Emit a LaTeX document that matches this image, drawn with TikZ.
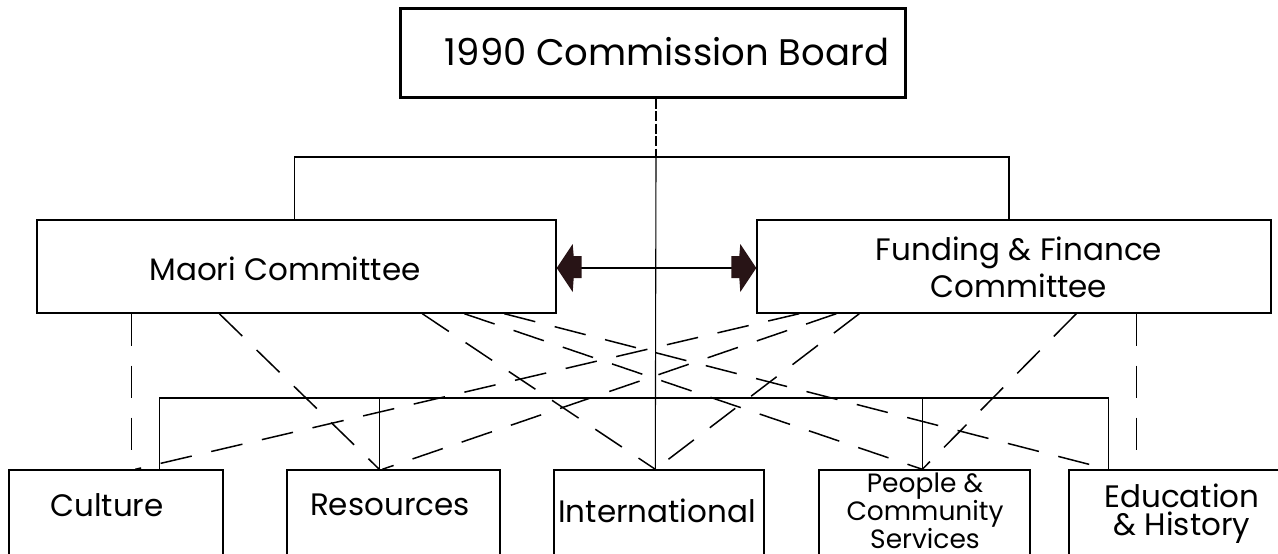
\documentclass[tikz,border=0pt]{standalone}
\usepackage{fontspec}
\setmainfont{Poppins}
\usetikzlibrary{calc}
\definecolor{headcol}{RGB}{40,20,22}
\begin{document}
\begin{tikzpicture}[x=1pt,y=-1pt,
  box/.style={draw, line width=1.4pt, inner sep=0pt},
  txt/.style={inner sep=0pt, align=center, font=\fontsize{31}{37}\selectfont},
  topbox/.style={draw, line width=3pt, inner sep=0pt},
  thin/.style={line width=1.1pt},
  dline/.style={line width=1.5pt, dash pattern=on 32pt off 20pt},
  head/.style={fill=headcol}]
\useasboundingbox (0,0) rectangle (1278,554);
\clip (0,0) rectangle (1278,554);
% boxes
\node[topbox, minimum width=505, minimum height=89] (top) at (652.5,52.5) {};
\node[box, minimum width=519, minimum height=93] (maori) at (296.5,266.5) {};
\node[box, minimum width=514, minimum height=93] (fund) at (1014,266.5) {};
\node[box, minimum width=214, minimum height=130] (culture) at (116,535) {};
\node[box, minimum width=213, minimum height=130] (resources) at (393.5,535) {};
\node[box, minimum width=210, minimum height=130] (international) at (659,535) {};
\node[box, minimum width=211, minimum height=130] (people) at (924.5,535) {};
\node[box, minimum width=221, minimum height=130] (education) at (1179.5,535) {};
% texts
\node[txt, font=\fontsize{37}{40}\selectfont] (ttop) at (667,52) {1990 Commission Board};
\node[txt] (tmaori) at (285,269) {Maori Committee};
\node[txt] (tfund) at (1019,267) {Funding \& Finance\\Committee};
\node[txt] (tculture) at (107,505) {Culture};
\node[txt] (tresources) at (390,505) {Resources};
\node[txt] (tinternational) at (657,511) {International};
\node[txt, font=\fontsize{26.5}{25.5}\selectfont] (tpeople) at (925,511) {People \&\\Community\\Services};
\node[txt, font=\fontsize{31}{28}\selectfont] (teducation) at (1182,514) {Education\\\& History};
% helper levels
\coordinate (hl) at (0,157);
\coordinate (bus) at (0,398);
\coordinate (cx) at (656,0);
\coordinate (ylev) at (0,268);
% attachment points on bottom boxes
\coordinate (cc) at ([xshift=151pt]culture.north west);
\coordinate (rc) at ([xshift=93pt]resources.north west);
\coordinate (ic) at ([xshift=102pt]international.north west);
\coordinate (pc) at ([xshift=104pt]people.north west);
\coordinate (ec) at ([xshift=40pt]education.north west);
\coordinate (mt) at ([xshift=-2pt]maori.north);
\coordinate (ft) at ([xshift=-5pt]fund.north);
% solid structure
\draw[thin, dash pattern=on 10pt off 2.5pt] (top.south -| cx) -- (cx |- hl);
\draw[thin] (cx |- hl) -- (ic);
\draw[thin] (mt) -- (mt |- hl) -- (ft |- hl) -- (ft);
\draw[thin] (cc) -- (cc |- bus) -- (ec |- bus) -- (ec);
\draw[thin] (rc |- bus) -- (rc);
\draw[thin] (pc |- bus) -- (pc);
% double arrow
\coordinate (aL) at (maori.east |- ylev);
\coordinate (aR) at (fund.west |- ylev);
\draw[thin] (aL) -- (aR);
\fill[head] (aL) -- ++(16,-24) -- ++(1,12) -- ++(8,0) -- ++(0,22) -- ++(-8,0) -- ++(-1,14) -- cycle;
\fill[head] (aR) -- ++(-16,-24) -- ++(-1,12) -- ++(-8,0) -- ++(0,22) -- ++(8,0) -- ++(1,14) -- cycle;
% dashed links from Maori Committee
\draw[dline] ([xshift=95pt]maori.south west) -- ([xshift=123pt]culture.north west);
\draw[dline] ([xshift=183pt]maori.south west) -- (rc);
\draw[dline] ([xshift=386pt]maori.south west) -- (ic);
\draw[dline] ([xshift=428pt]maori.south west) -- (pc);
\draw[dline] ([xshift=468pt]maori.south west) -- (ec);
% dashed links from Funding & Finance Committee
\draw[dline] ([xshift=43pt]fund.south west) -- ([xshift=127pt]culture.north west);
\draw[dline] ([xshift=80pt]fund.south west) -- ([xshift=96pt]resources.north west);
\draw[dline] ([xshift=103pt]fund.south west) -- (ic);
\draw[dline] ([xshift=320pt]fund.south west) -- (pc);
\draw[dline] ([xshift=380pt]fund.south west) -- ([xshift=68pt]education.north west);
\end{tikzpicture}
\end{document}
